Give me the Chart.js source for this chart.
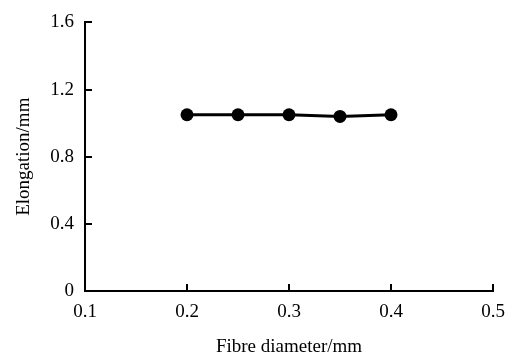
<!DOCTYPE html>
<html>
<head>
<meta charset="utf-8">
<script src="https://cdn.jsdelivr.net/npm/chart.js@4/dist/chart.umd.min.js"></script>
<style>
    html, body { margin: 0; padding: 0; background: #fff; }
    #wrap { width: 508px; height: 356px; }
</style>
</head>
<body>
<div id="wrap"><canvas id="chart" width="508" height="356"></canvas></div>
<script>
// Data
const fibreDiameter = [0.2, 0.25, 0.3, 0.35, 0.4];
const elongation = [1.05, 1.05, 1.05, 1.04, 1.05];
const xTicks = [0.1, 0.2, 0.3, 0.4, 0.5];
const yTicks = [0, 0.4, 0.8, 1.2, 1.6];

const serif = "'Liberation Serif', 'Times New Roman', serif";

// Draw short tick marks pointing into the plot area
const inwardTicks = {
    id: 'inwardTicks',
    afterDraw(chart) {
        const ctx = chart.ctx;
        const x = chart.scales.x;
        const y = chart.scales.y;
        const len = 7;
        ctx.save();
        ctx.strokeStyle = '#000';
        ctx.lineWidth = 2;
        ctx.beginPath();
        xTicks.slice(1).forEach(v => {
            const px = Math.round(x.getPixelForValue(v));
            ctx.moveTo(px, y.bottom);
            ctx.lineTo(px, y.bottom - len);
        });
        yTicks.slice(1).forEach(v => {
            const py = Math.round(y.getPixelForValue(v));
            ctx.moveTo(x.left, py);
            ctx.lineTo(x.left + len, py);
        });
        ctx.stroke();
        ctx.restore();
    }
};

new Chart(document.getElementById('chart').getContext('2d'), {
    type: 'line',
    data: {
        datasets: [{
            data: fibreDiameter.map((d, i) => ({ x: d, y: elongation[i] })),
            borderColor: '#000',
            backgroundColor: '#000',
            borderWidth: 3,
            pointRadius: 6.5,
            pointBackgroundColor: '#000',
            pointBorderWidth: 0,
            tension: 0
        }]
    },
    options: {
        responsive: false,
        animation: false,
        layout: { padding: { top: 21, right: 15, left: 0, bottom: 0 } },
        plugins: {
            legend: { display: false },
            tooltip: { enabled: false }
        },
        scales: {
            x: {
                type: 'linear',
                min: 0.1,
                max: 0.5,
                afterBuildTicks(scale) {
                    scale.ticks = xTicks.map(v => ({ value: v }));
                },
                afterFit(scale) {
                    scale.height = 65;
                    scale.paddingLeft = 0;
                    scale.paddingRight = 0;
                },
                grid: { display: false, drawTicks: false },
                border: { display: true, color: '#000', width: 2 },
                ticks: {
                    color: '#000',
                    padding: 10,
                    font: { family: serif, size: 19 },
                    callback: v => v.toFixed(1)
                },
                title: {
                    display: true,
                    text: 'Fibre diameter/mm',
                    color: '#000',
                    font: { family: serif, size: 19 },
                    padding: { top: 6, bottom: -2 }
                }
            },
            y: {
                min: 0,
                max: 1.6,
                afterBuildTicks(scale) {
                    scale.ticks = yTicks.map(v => ({ value: v }));
                },
                afterFit(scale) { scale.width = 85; },
                grid: { display: false, drawTicks: false },
                border: { display: true, color: '#000', width: 2 },
                ticks: {
                    color: '#000',
                    padding: 11,
                    font: { family: serif, size: 19 },
                    callback: v => v === 0 ? '0' : v.toFixed(1)
                },
                title: {
                    display: true,
                    text: 'Elongation/mm',
                    color: '#000',
                    font: { family: serif, size: 19 },
                    padding: { top: 13, bottom: 0 }
                }
            }
        }
    },
    plugins: [inwardTicks]
});
</script>
</body>
</html>
